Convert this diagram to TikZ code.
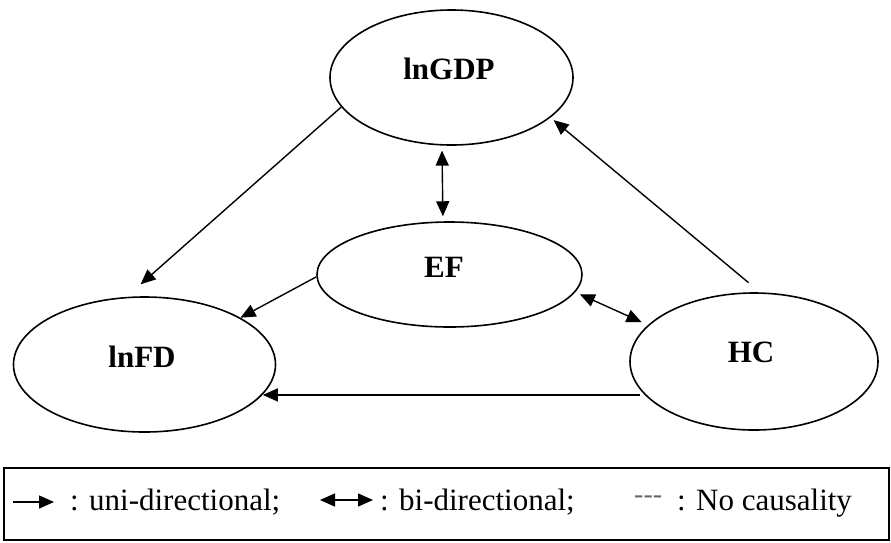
\documentclass[tikz,border=0pt]{standalone}
\usepackage{fontspec}
\setmainfont{Liberation Serif}
\usetikzlibrary{arrows.meta,shapes.geometric}
\begin{document}
\begin{tikzpicture}[x=1pt,y=-1pt,
  ell/.style={draw, ellipse, inner sep=0pt, line width=1.6pt},
  lbl/.style={font=\fontsize{31}{36}\selectfont\bfseries, inner sep=0pt},
  legtext/.style={font=\fontsize{31}{36}\selectfont, inner sep=0pt, anchor=base west},
  conn/.style={line width=1.4pt, -{Triangle[length=15pt,width=13pt]}},
  biconn/.style={line width=1.4pt, {Triangle[length=15pt,width=13pt]}-{Triangle[length=15pt,width=13pt]}}]
\useasboundingbox (0,0) rectangle (891,542);
\fill[white] (0,0) rectangle (891,542);
% ellipses
\node[ell, minimum width=243pt, minimum height=135pt] (gdp) at (451.5,77.5) {};
\node[ell, minimum width=262pt, minimum height=135pt] (fd) at (144.5,364.5) {};
\node[ell, minimum width=248pt, minimum height=137pt] (hc) at (754,361.5) {};
\node[ell, minimum width=265pt, minimum height=105pt] (ef) at (449.5,274.5) {};
% labels
\node[lbl] (gdpl) at (449,69) {lnGDP};
\node[lbl] (fdl) at (142,357) {lnFD};
\node[lbl] (hcl) at (751,352) {HC};
\node[lbl] (efl) at (444,267) {EF};
% connectors
\draw[conn, shorten >=19pt] (gdp.195.3) -- (fd.105.5);
\draw[conn] (ef.181) -- (fd.26.4);
\draw[biconn, shorten <=5pt, shorten >=5pt] (gdp.262.8) -- (ef.97.1);
\draw[biconn, shorten <=5pt, shorten >=7pt] (ef.352.6) -- (hc.161.4);
\draw[conn, shorten <=15pt, shorten >=4pt] (hc.85.9) -- (gdp.338);
\draw[conn, shorten <=5pt, shorten >=3pt] (hc.197.9) -- (fd.344.8 |- hc.197.9);
% legend
\node[draw, line width=1.8pt, minimum width=885pt, minimum height=72pt, inner sep=0pt] (legend) at (446.5,504) {};
\coordinate (u1) at (13,502);
\coordinate (u2) at (54,502);
\draw[conn] (u1) -- (u2);
\node[legtext] (ut) at (70,510) {: uni-directional;};
\coordinate (b1) at (320,500);
\coordinate (b2) at (373,500);
\draw[biconn] (b1) -- (b2);
\node[legtext] (bt) at (380,510) {: bi-directional;};
\node[legtext, text=black!60, font=\fontsize{28}{32}\selectfont] (dt) at (634,503) {-{}-{}-};
\node[legtext] (nt) at (677,510) {: No causality};
\end{tikzpicture}
\end{document}
